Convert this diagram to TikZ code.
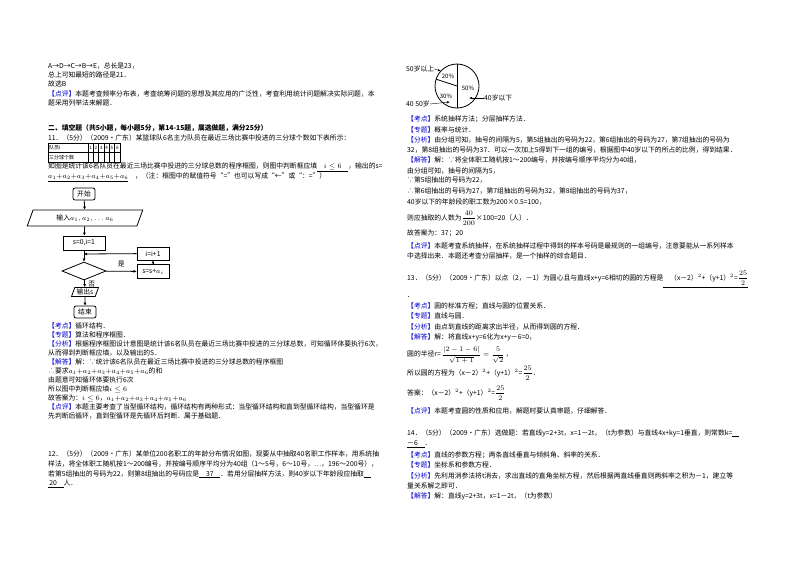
\documentclass[tikz,border=0pt]{standalone}
\usepackage{amsmath}
\usepackage{fontspec}
\setmainfont{Noto Sans CJK SC}
\usetikzlibrary{shapes.geometric,arrows.meta}
\newcommand\fs{\fontsize{6.8}{8}\selectfont}
\newcommand\tg[1]{\textcolor{blue!80!black}{【#1】}}
\newcommand\ul[1]{\underline{\hbox to 0pt{}\quad#1\quad}}
\begin{document}
\begin{tikzpicture}[x=1pt,y=-1pt,
  t/.style={anchor=west,inner sep=0pt,font=\fs},
  box/.style={draw,thick,inner sep=1pt,font=\fs},
  rbox/.style={box,rounded corners=2pt,minimum width=22pt,minimum height=12pt},
  sbox/.style={box,minimum width=32pt,minimum height=14pt},
  para/.style={box,trapezium,trapezium left angle=70,trapezium right angle=110},
  arr/.style={-{Latex[length=3pt,width=3pt]},thick}]
\useasboundingbox (0,0) rectangle (800,566);
% left column
\node[t] (a1) at (48,66) {A→D→C→B→E，总长是23，};
\node[t] (a2) at (48,75) {总上可知最短的路径是21．};
\node[t] (a3) at (48,84) {故选B};
\node[t] (a4) at (48,94) {\tg{点评}本题考查频率分布表，考查统筹问题的思想及其应用的广泛性，考查利用统计问题解决实际问题，本};
\node[t] (a5) at (48,103) {题采用列举法来解题．};
\node[t] (a6) at (48,128) {\textbf{二、填空题（共5小题，每小题5分，第14-15题，属选做题，满分25分）}};
\node[t] (a7) at (48,138) {11．（5分）（2009•广东）某篮球队6名主力队员在最近三场比赛中投进的三分球个数如下表所示：};
% table
\draw (48,143) rectangle (120,162) (48,152.5)--(120,152.5) (88,143)--(88,162);
\foreach \k in {1,...,5}{\draw (88+\k*5.33,143)--(88+\k*5.33,162);}
\node[t,font=\fontsize{5}{6}\selectfont] (tb1) at (49,148) {队员i};
\node[t,font=\fontsize{5}{6}\selectfont] (tb2) at (49,157.5) {三分球个数};
\foreach \k in {1,...,6}{\node[inner sep=0,font=\fontsize{4.5}{5}\selectfont] (c\k) at (85.3+\k*5.33,148) {\k};}
\node[t] (a8) at (48,167) {如图是统计该6名队员在最近三场比赛中投进的三分球总数的程序框图，则图中判断框应填\ul{$i\leq6$}，输出的s=};
\node[t] (a9) at (48,177) {\underline{$a_1{+}a_2{+}a_3{+}a_4{+}a_5{+}a_6$}\quad ，（注：框图中的赋值符号“=”也可以写成“←”或“：=”）};
% flowchart
\node[rbox] (st) at (84,194) {开始};
\node[para,minimum width=60pt,minimum height=16pt] (in) at (85,218) {输入$a_1,a_2,\ldots a_6$};
\node[sbox,minimum width=42pt] (init) at (84,243) {s=0,i=1};
\node[box,diamond,aspect=2.6,minimum width=44pt,minimum height=18pt,inner sep=0] (dec) at (84,271) {};
\node[sbox] (sa) at (153,271.5) {s=s+$a_i$};
\node[sbox,minimum height=13pt] (inc) at (153,253.5) {i=i+1};
\node[para,minimum width=26pt,minimum height=9pt] (out) at (85,292) {输出s};
\node[rbox] (en) at (85,312) {结束};
\coordinate (j) at (84,254);
\draw[arr] (st)--(in);
\draw[arr] (in)--(init);
\draw[arr] (init)--(dec);
\draw[arr] (inc)--(j);
\draw[arr] (dec)--node[above,font=\fs] (yes) {是} (sa);
\draw[arr] (sa)--(inc);
\draw[arr] (dec)--node[right,font=\fs] (no) {否} (out);
\draw[arr] (out)--(en);
% analysis 11
\node[t] (b1) at (48,326) {\tg{考点}循环结构．};
\node[t] (b2) at (48,335) {\tg{专题}算法和程序框图．};
\node[t] (b3) at (48,344) {\tg{分析}根据程序框图设计意图是统计该6名队员在最近三场比赛中投进的三分球总数，可知循环体要执行6次，};
\node[t] (b4) at (48,353) {从而得到判断框应填，以及输出的S．};
\node[t] (b5) at (48,362) {\tg{解答}解：∵统计该6名队员在最近三场比赛中投进的三分球总数的程序框图};
\node[t] (b6) at (48,371) {∴要求$a_1{+}a_2{+}a_3{+}a_4{+}a_5{+}a_6$的和};
\node[t] (b7) at (48,380) {由题意可知循环体要执行6次};
\node[t] (b8) at (48,389) {所以图中判断框应填$i\leq6$};
\node[t] (b9) at (48,398) {故答案为：$i\leq6$，$a_1{+}a_2{+}a_3{+}a_4{+}a_5{+}a_6$};
\node[t] (b10) at (48,407) {\tg{点评}本题主要考查了当型循环结构，循环结构有两种形式：当型循环结构和直到型循环结构，当型循环是};
\node[t] (b11) at (48,416) {先判断后循环，直到型循环是先循环后判断．属于基础题．};
\node[t] (c1) at (48,454) {12．（5分）（2009•广东）某单位200名职工的年龄分布情况如图，现要从中抽取40名职工作样本，用系统抽};
\node[t] (c2) at (48,464) {样法，将全体职工随机按1～200编号，并按编号顺序平均分为40组（1～5号，6～10号，…，196～200号），};
\node[t] (c3) at (48,474) {若第5组抽出的号码为22，则第8组抽出的号码应是\ul{37}．若用分层抽样方法，则40岁以下年龄段应抽取\underline{\quad}};
\node[t] (c4) at (48,484) {\underline{\,20\quad}人．};
% pie
\coordinate (pc) at (457,86);
\draw[thick] (pc) circle (22);
\draw[thick] (457,64)--(457,108);
\draw[thick] (pc)--++(198:22);
\node[font=\fontsize{6}{7}\selectfont,inner sep=0] (p20) at (448,76) {20\%};
\node[font=\fontsize{6}{7}\selectfont,inner sep=0] (p50) at (468,88) {50\%};
\node[font=\fontsize{6}{7}\selectfont,inner sep=0] (p30) at (446,96) {30\%};
\node[t] (l50) at (406,69) {50岁以上};
\node[t] (l40) at (406,104) {40~50岁};
\node[t] (l4) at (484,98) {40岁以下};
\coordinate (q1) at (441,71);
\coordinate (q2) at (450,102);
\coordinate (q3) at (469,98);
\draw[-{Latex[length=3pt]}] (l50.east)--(q1);
\draw[-{Latex[length=3pt]}] (l40.east)--(q2);
\draw[-{Latex[length=3pt]}] (l4.west)--(q3);
% right column
\node[t] (r1) at (407,119) {\tg{考点}系统抽样方法；分层抽样方法．};
\node[t] (r2) at (407,130) {\tg{专题}概率与统计．};
\node[t] (r3) at (407,140) {\tg{分析}由分组可知，抽号的间隔为5，第5组抽出的号码为22，第6组抽出的号码为27，第7组抽出的号码为};
\node[t] (r4) at (407,150) {32，第8组抽出的号码为37．可以一次加上5得到下一组的编号，根据图中40岁以下的所占的比例，得到结果．};
\node[t] (r5) at (407,160) {\tg{解答}解：∵将全体职工随机按1～200编号，并按编号顺序平均分为40组，};
\node[t] (r6) at (407,171) {由分组可知，抽号的间隔为5，};
\node[t] (r7) at (407,180) {∵第5组抽出的号码为22，};
\node[t] (r8) at (407,191) {∴第6组抽出的号码为27，第7组抽出的号码为32，第8组抽出的号码为37，};
\node[t] (r9) at (407,202) {40岁以下的年龄段的职工数为200×0.5=100，};
\node[t] (r10) at (407,218) {则应抽取的人数为$\dfrac{40}{200}$×100=20（人）．};
\node[t] (r11) at (407,233) {故答案为：37；20};
\node[t] (r12) at (407,246) {\tg{点评}本题考查系统抽样，在系统抽样过程中得到的样本号码是最规则的一组编号，注意要能从一系列样本};
\node[t] (r13) at (407,256) {中选择出来．本题还考查分层抽样，是一个抽样的综合题目．};
\node[t] (r14) at (407,279) {13．（5分）（2009•广东）以点（2，－1）为圆心且与直线x+y=6相切的圆的方程是\underline{\quad（x－2）$^2$+（y+1）$^2$=$\dfrac{25}{2}$}};
\node[t] (r15) at (407,297) {．};
\node[t] (r16) at (407,306) {\tg{考点}圆的标准方程；直线与圆的位置关系．};
\node[t] (r17) at (407,316) {\tg{专题}直线与圆．};
\node[t] (r18) at (407,327) {\tg{分析}由点到直线的距离求出半径，从而得到圆的方程．};
\node[t] (r19) at (407,337) {\tg{解答}解：将直线x+y=6化为x+y－6=0，};
\node[t] (r20) at (407,355) {圆的半径r=\,$\dfrac{|2-1-6|}{\sqrt{1+1}}=\dfrac{5}{\sqrt2}$\,，};
\node[t] (r21) at (407,373) {所以圆的方程为（x－2）$^2$+（y+1）$^2$=$\dfrac{25}{2}$．};
\node[t] (r22) at (407,393) {答案：（x－2）$^2$+（y+1）$^2$=$\dfrac{25}{2}$};
\node[t] (r23) at (407,411) {\tg{点评}本题考查圆的性质和应用，解题时要认真审题，仔细解答．};
\node[t] (r24) at (407,433) {14．（5分）（2009•广东）选做题：若直线y=2+3t，x=1－2t，（t为参数）与直线4x+ky=1垂直，则常数k=\underline{\quad}};
\node[t] (r25) at (407,444) {\underline{－6\quad}．};
\node[t] (r26) at (407,455) {\tg{考点}直线的参数方程；两条直线垂直与倾斜角、斜率的关系．};
\node[t] (r27) at (407,465) {\tg{专题}坐标系和参数方程．};
\node[t] (r28) at (407,476) {\tg{分析}先利用消参法将t消去，求出直线的直角坐标方程，然后根据两直线垂直则两斜率之积为－1，建立等};
\node[t] (r29) at (407,486) {量关系解之即可．};
\node[t] (r30) at (407,496) {\tg{解答}解：直线y=2+3t，x=1－2t，（t为参数）};
\end{tikzpicture}
\end{document}
